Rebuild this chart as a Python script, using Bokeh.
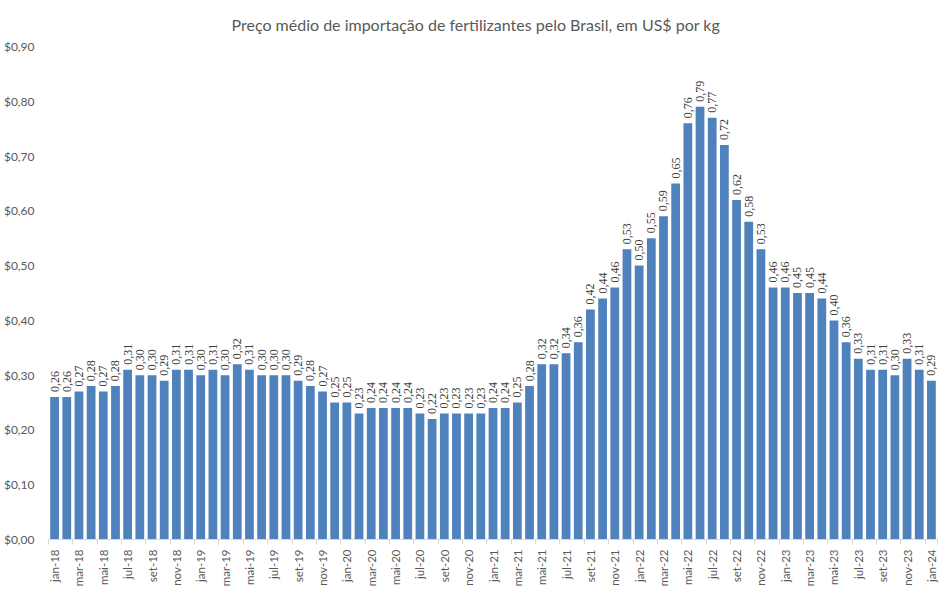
import math
from bokeh.plotting import figure
from bokeh.models import ColumnDataSource, Range1d, FixedTicker, CustomJSTickFormatter, LabelSet
from bokeh.embed import file_html
from bokeh.resources import INLINE

months = ["jan", "fev", "mar", "abr", "mai", "jun", "jul", "ago", "set", "out", "nov", "dez"]
years = ["18", "19", "20", "21", "22", "23", "24"]
categories = [f"{m}-{y}" for y in years[:-1] for m in months] + ["jan-24"]

prices = [
    0.26, 0.26, 0.27, 0.28, 0.27, 0.28, 0.31, 0.30, 0.30, 0.29, 0.31, 0.31,
    0.30, 0.31, 0.30, 0.32, 0.31, 0.30, 0.30, 0.30, 0.29, 0.28, 0.27, 0.25,
    0.25, 0.23, 0.24, 0.24, 0.24, 0.24, 0.23, 0.22, 0.23, 0.23, 0.23, 0.23,
    0.24, 0.24, 0.25, 0.28, 0.32, 0.32, 0.34, 0.36, 0.42, 0.44, 0.46, 0.53,
    0.50, 0.55, 0.59, 0.65, 0.76, 0.79, 0.77, 0.72, 0.62, 0.58, 0.53, 0.46,
    0.46, 0.45, 0.45, 0.44, 0.40, 0.36, 0.33, 0.31, 0.31, 0.30, 0.33, 0.31,
    0.29,
]

y_ticks = [0.0, 0.1, 0.2, 0.3, 0.4, 0.5, 0.6, 0.7, 0.8, 0.9]

FONT = "Lato"
GREY = "#595959"

idx = list(range(len(categories)))
labels = [f"{v:.2f}".replace(".", ",") for v in prices]
src = ColumnDataSource(dict(x=idx, top=prices, label=labels))

p = figure(width=948, height=589, output_backend="svg", toolbar_location=None,
           x_range=Range1d(-0.5, len(categories) - 0.5), y_range=Range1d(0, 0.9),
           min_border_left=45, min_border_right=11, min_border_top=45, min_border_bottom=49)
p.outline_line_color = None
p.background_fill_color = "white"
p.border_fill_color = "white"

p.title.text = "Preço médio de importação de fertilizantes pelo Brasil, em US$ por kg"
p.title.align = "left"
p.title.offset = 183
p.title.standoff = 25
p.title.text_font = FONT
p.title.text_font_size = "16px"
p.title.text_font_style = "normal"
p.title.text_color = GREY

p.vbar(x="x", top="top", width=0.72, bottom=0, source=src,
       fill_color="#4F81BD", line_color=None)

p.add_layout(LabelSet(x="x", y="top", text="label", source=src, angle=math.pi / 2,
                      text_align="left", text_baseline="middle", y_offset=5,
                      text_font=FONT, text_font_size="12px", text_color="#404040"))

even = [i for i in idx if i % 2 == 0]
p.xaxis.ticker = FixedTicker(ticks=even, minor_ticks=[i - 0.5 for i in even] + [len(categories) - 0.5])
p.xaxis.major_label_overrides = {i: categories[i] for i in even}
p.xaxis.major_label_orientation = math.pi / 2
p.xaxis.major_label_text_font = FONT
p.xaxis.major_label_text_font_size = "11.5px"
p.xaxis.major_label_text_color = GREY
p.xaxis.major_label_standoff = 4
p.xaxis.axis_line_color = "#D9D9D9"
p.xaxis.major_tick_line_color = None
p.xaxis.minor_tick_line_color = "#D9D9D9"
p.xaxis.minor_tick_out = 5
p.xaxis.minor_tick_in = 0

p.yaxis.ticker = FixedTicker(ticks=y_ticks)
p.yaxis.formatter = CustomJSTickFormatter(code="return '$' + tick.toFixed(2).replace('.', ',');")
p.yaxis.major_label_text_font = FONT
p.yaxis.major_label_text_font_size = "12px"
p.yaxis.major_label_text_color = GREY
p.yaxis.axis_line_color = None
p.yaxis.major_tick_line_color = None
p.yaxis.minor_tick_line_color = None
p.yaxis.major_label_standoff = 8

p.xgrid.grid_line_color = None
p.ygrid.grid_line_color = None

open("out.html", "w").write(file_html(p, INLINE))
